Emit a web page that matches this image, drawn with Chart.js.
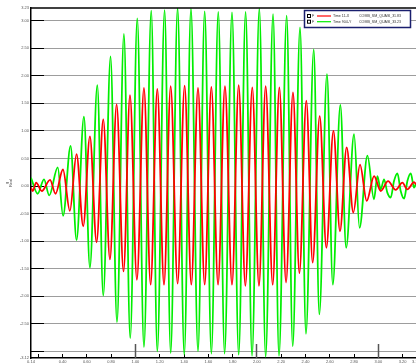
<!DOCTYPE html>
<html>
<head>
<meta charset="utf-8">
<script src="https://cdn.jsdelivr.net/npm/chart.js@4/dist/chart.umd.min.js"></script>
<style>
  html, body { margin: 0; padding: 0; background: #fff; overflow: hidden; }
  #wrap { width: 416px; height: 364px; overflow: hidden; }
</style>
</head>
<body>
<div id="wrap"><canvas id="chart" width="430" height="364"></canvas></div>
<script>
// time (s) and values at the peaks / troughs
const redT = [0.140, 0.155, 0.182, 0.229, 0.297, 0.342, 0.403, 0.460, 0.515, 0.570, 0.625, 0.680,
  0.735, 0.790, 0.845, 0.902, 0.955, 1.012, 1.070, 1.125, 1.180, 1.235, 1.290, 1.347, 1.405, 1.460,
  1.515, 1.570, 1.625, 1.680, 1.737, 1.795, 1.850, 1.905, 1.962, 2.017, 2.072, 2.130, 2.185, 2.240,
  2.297, 2.350, 2.407, 2.459, 2.517, 2.572, 2.630, 2.684, 2.739, 2.794, 2.849, 2.904, 2.965, 3.019,
  3.080, 3.143, 3.198, 3.239, 3.294, 3.310];
const redV = [-0.03, -0.09, 0.06, -0.09, 0.11, -0.14, 0.30, -0.45, 0.58, -0.73, 0.90, -1.02,
  1.21, -1.33, 1.48, -1.55, 1.65, -1.70, 1.78, -1.79, 1.76, -1.79, 1.81, -1.77, 1.82, -1.79,
  1.78, -1.79, 1.80, -1.79, 1.81, -1.79, 1.83, -1.81, 1.79, -1.81, 1.81, -1.79, 1.79, -1.75,
  1.70, -1.58, 1.55, -1.39, 1.27, -1.12, 1.00, -0.82, 0.70, -0.48, 0.39, -0.27, 0.18, -0.09,
  0.09, -0.07, 0.06, -0.06, 0.07, 0.03];

const greenT = [0.140, 0.195, 0.247, 0.290, 0.360, 0.404, 0.466, 0.515, 0.576, 0.625, 0.686, 0.735,
  0.795, 0.848, 0.905, 0.957, 1.015, 1.070, 1.130, 1.180, 1.240, 1.290, 1.347, 1.402, 1.457, 1.515,
  1.570, 1.625, 1.682, 1.734, 1.795, 1.850, 1.907, 1.960, 2.020, 2.072, 2.133, 2.182, 2.245, 2.295,
  2.355, 2.404, 2.468, 2.514, 2.577, 2.625, 2.687, 2.735, 2.800, 2.845, 2.910, 2.964, 2.992, 3.019,
  3.047, 3.074, 3.102, 3.129, 3.157, 3.184, 3.212, 3.239, 3.267, 3.294, 3.310];
const greenV = [0.15, -0.14, 0.12, -0.17, 0.34, -0.54, 0.73, -0.98, 1.26, -1.48, 1.83, -1.99,
  2.35, -2.47, 2.76, -2.76, 3.04, -2.92, 3.18, -3.00, 3.19, -3.03, 3.23, -3.06, 3.22, -3.00,
  3.17, -3.04, 3.16, -3.04, 3.15, -3.06, 3.16, -3.08, 3.22, -3.10, 3.12, -3.08, 3.09, -2.91,
  2.88, -2.68, 2.48, -2.33, 2.03, -1.79, 1.47, -1.12, 0.94, -0.76, 0.55, -0.24, 0.18, -0.06,
  0.12, -0.12, -0.21, 0.09, 0.23, -0.09, -0.23, 0.09, 0.23, -0.03, 0.05];

const xMin = 0.14, xMax = 3.31;
const yMin = -3.12, yMax = 3.23;
const xTickVals = [0.14, 0.4, 0.6, 0.8, 1.0, 1.2, 1.4, 1.6, 1.8, 2.0, 2.2, 2.4, 2.6, 2.8, 3.0, 3.2, 3.31];
const xMarks = [0.2, 0.4, 0.6, 0.8, 1, 1.2, 1.4, 1.6, 1.8, 2, 2.2, 2.4, 2.6, 2.8, 3, 3.2];
const yTickVals = [3.23, 3.0, 2.5, 2.0, 1.5, 1.0, 0.5, 0.0, -0.5, -1.0, -1.5, -2.0, -2.5, -3.0, -3.12];
const yMarks = [3.0, 2.5, 2.0, 1.5, 1.0, 0.5, 0.0, -0.5, -1.0, -1.5, -2.0, -2.5, -3.0];

const legendKeys = ['F', 'F'];
const legendNames = ['Time 11-X', 'Time 904-Y'];
const legendCases = ['COMB_SM_QUASI_3', 'COMB_SM_QUASI_3'];
const legendMax = ['1.83', '3.23'];

const RED = '#ff0000';
const GREEN = '#00ee00';
const FONT = '"Liberation Sans", Arial, sans-serif';

const pts = (t, v) => t.map((x, i) => ({ x, y: v[i] }));
const isLimit = v => v === yMin || v === yMax;

function align(p, w) { return Math.round(p - w / 2) + w / 2; }

const decorations = {
  id: 'decorations',
  beforeDatasetsDraw(chart) {
    const { ctx, chartArea: a, scales: { x, y } } = chart;
    ctx.save();
    // solid starts of the grid lines
    ctx.strokeStyle = '#000';
    ctx.lineWidth = 1;
    yMarks.forEach(v => {
      const py = align(y.getPixelForValue(v), 1);
      ctx.beginPath(); ctx.moveTo(a.left, py); ctx.lineTo(a.left + 13, py); ctx.stroke();
    });
    // tick marks on the time axis, pointing inwards
    xMarks.forEach(v => {
      const major = Number.isInteger(v);
      const px = align(x.getPixelForValue(v), 1);
      ctx.strokeStyle = major ? '#555' : '#000';
      ctx.lineWidth = major ? 1.5 : 1;
      ctx.beginPath(); ctx.moveTo(px, a.bottom); ctx.lineTo(px, a.bottom - (major ? 14 : 4)); ctx.stroke();
    });
    ctx.restore();
  },
  afterDraw(chart) {
    const { ctx, chartArea: a } = chart;
    ctx.save();
    // top frame line
    ctx.strokeStyle = '#000';
    ctx.lineWidth = 1.5;
    ctx.beginPath(); ctx.moveTo(a.left - 0.75, a.top); ctx.lineTo(a.right, a.top); ctx.stroke();

    // legend box
    ctx.fillStyle = '#fff';
    ctx.fillRect(304, 10, 107, 18);
    ctx.strokeStyle = '#1a1f6e';
    ctx.lineWidth = 1.5;
    ctx.strokeRect(304.5, 10.5, 106, 17);
    const colors = [RED, GREEN];
    ctx.font = '3.6px ' + FONT;
    ctx.textBaseline = 'middle';
    [16, 21.7].forEach((ry, i) => {
      ctx.strokeStyle = '#000';
      ctx.lineWidth = 1;
      ctx.strokeRect(307.5, ry - 1.5, 3, 3);
      ctx.fillStyle = '#333';
      ctx.fillText(legendKeys[i], 312, ry);
      ctx.strokeStyle = colors[i];
      ctx.lineWidth = 1.2;
      ctx.beginPath(); ctx.moveTo(317, ry); ctx.lineTo(331, ry); ctx.stroke();
      ctx.fillStyle = '#333';
      ctx.fillText(legendNames[i], 333, ry);
      ctx.fillText(legendCases[i], 359, ry);
      ctx.fillText(legendMax[i], 394, ry);
    });
    ctx.restore();
  }
};

new Chart(document.getElementById('chart'), {
  type: 'line',
  data: {
    datasets: [
      { data: pts(redT, redV), borderColor: RED, borderWidth: 1.8 },
      { data: pts(greenT, greenV), borderColor: GREEN, borderWidth: 1.8 },
    ]
  },
  options: {
    responsive: false,
    animation: false,
    devicePixelRatio: 1,
    layout: { padding: { top: 8, right: 14, bottom: 0, left: 0 } },
    elements: {
      point: { radius: 0 },
      line: { cubicInterpolationMode: 'monotone', fill: false },
    },
    plugins: { legend: { display: false }, tooltip: { enabled: false } },
    scales: {
      x: {
        type: 'linear', min: xMin, max: xMax,
        afterBuildTicks: s => { s.ticks = xTickVals.map(v => ({ value: v })); },
        afterFit: s => { s.height = 6; },
        grid: { display: false, drawTicks: false },
        border: { display: true, color: '#000', width: 1.5 },
        ticks: {
          autoSkip: false, maxRotation: 0, minRotation: 0, padding: 1,
          color: '#555', font: { family: FONT, size: 4 },
          callback: v => v.toFixed(2),
        },
      },
      y: {
        type: 'linear', min: yMin, max: yMax,
        afterBuildTicks: s => { s.ticks = yTickVals.map(v => ({ value: v })); },
        afterFit: s => { s.width = 31; },
        grid: {
          drawTicks: false,
          lineWidth: 1,
          color: c => {
            const v = c.tick ? c.tick.value : null;
            if (v === null || isLimit(v)) return 'rgba(0,0,0,0)';
            return v === 0 ? '#c8c8c8' : '#3a3a3a';
          },
        },
        border: {
          display: true, color: '#000', width: 1.5,
          dash: c => (c.tick && c.tick.value !== 0 ? [1, 1] : []),
        },
        title: {
          display: true, text: ['g', 'Real'], color: '#555',
          font: { family: FONT, size: 4 }, padding: { top: 4, bottom: 0 },
        },
        ticks: {
          padding: 2, color: '#555', font: { family: FONT, size: 4 },
          callback: v => (v === -3 ? '' : v.toFixed(2)),
        },
      },
    },
  },
  plugins: [decorations],
});
</script>
</body>
</html>
